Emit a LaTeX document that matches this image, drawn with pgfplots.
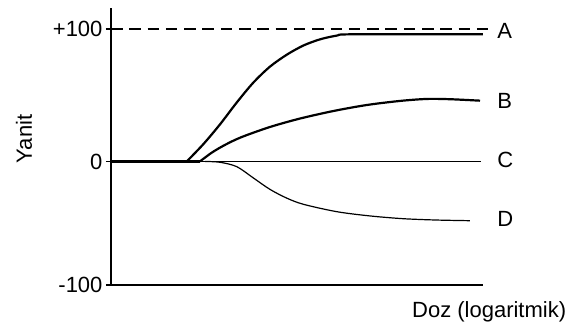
\documentclass[border=0pt]{standalone}
\usepackage{pgfplots}
\pgfplotsset{compat=1.18}
\usepackage{fontspec}
\setmainfont{Liberation Sans}
\begin{document}
\begin{tikzpicture}
\def\fs{\fontsize{22}{26}\selectfont}
\begin{axis}[
  scale only axis,
  width=372pt, height=276.5pt,
  xmin=0, xmax=100,
  ymin=-93, ymax=115.7,
  axis x line=bottom, axis y line=left,
  axis line style={line width=2.3pt, -},
  xtick=\empty,
  ytick={-93,0,100},
  yticklabels={-100,0,+100},
  tick align=outside,
  major tick length=5pt,
  tick style={line width=1.8pt, black},
  yticklabel style={font=\fs, /pgf/number format/assume math mode=true},
  clip=false,
]
% C
\addplot[black, line width=1.2pt] coordinates {(0,0) (99.5,0)};
% D
\addplot[black, line width=1.2pt] coordinates {(0,0) (25.3,0)};
\addplot[black, line width=1.2pt, smooth] coordinates {(25.3,0) (29.3,-0.6) (33.8,-3.9) (38.25,-12.4) (42.7,-21.0) (47.2,-27.6) (51.7,-32.3) (60.7,-37.9) (69.6,-41.1) (78.6,-43.2) (87.5,-44.2) (96.5,-44.7)};
% A
\addplot[black, line width=2.2pt] coordinates {(0,0) (20.35,0)};
\addplot[black, line width=2.2pt, smooth] coordinates {(20.35,0) (24.8,13) (29.3,28) (33.8,44.5) (38.25,59.5) (42.7,71.5) (47.2,80.5) (51.7,87.5) (56.2,92.2) (60.7,95.0) (65.1,96.0) (100,96.0)};
% B
\addplot[black, line width=2.2pt] coordinates {(0,0) (23.9,0)};
\addplot[black, line width=2.2pt, smooth] coordinates {(23.9,0) (27,6.5) (30.5,12.3) (35,18.3) (42.7,26.0) (50.8,32.4) (59.8,38.1) (68.7,42.6) (77.7,45.7) (84.9,47.2) (91.1,47.0) (99.2,45.9)};
% maximum (dashed)
\addplot[black, line width=2.3pt, dash pattern=on 11.5pt off 6.8pt] coordinates {(0,100) (101.6,100)};

\node[font=\fs, anchor=west, inner sep=0pt] at (axis cs:103.8,98.5) {A};
\node[font=\fs, anchor=west, inner sep=0pt] at (axis cs:103.8,46.0) {B};
\node[font=\fs, anchor=west, inner sep=0pt] at (axis cs:103.8,1.0) {C};
\node[font=\fs, anchor=west, inner sep=0pt] at (axis cs:103.8,-43.4) {D};
\node[font=\fs, anchor=base west, inner sep=0pt] at (axis cs:80.9,-118.1) {Doz (logaritmik)};
\node[font=\fs, rotate=90, anchor=center, inner sep=0pt] at (axis cs:-23.4,17.0) {Yanit};

\coordinate (bl) at (axis cs:-29.84,-125.66);
\coordinate (tr) at (axis cs:127.96,121.89);
\end{axis}
\pgfresetboundingbox
\path[use as bounding box] (bl) rectangle (tr);
\end{tikzpicture}
\end{document}
